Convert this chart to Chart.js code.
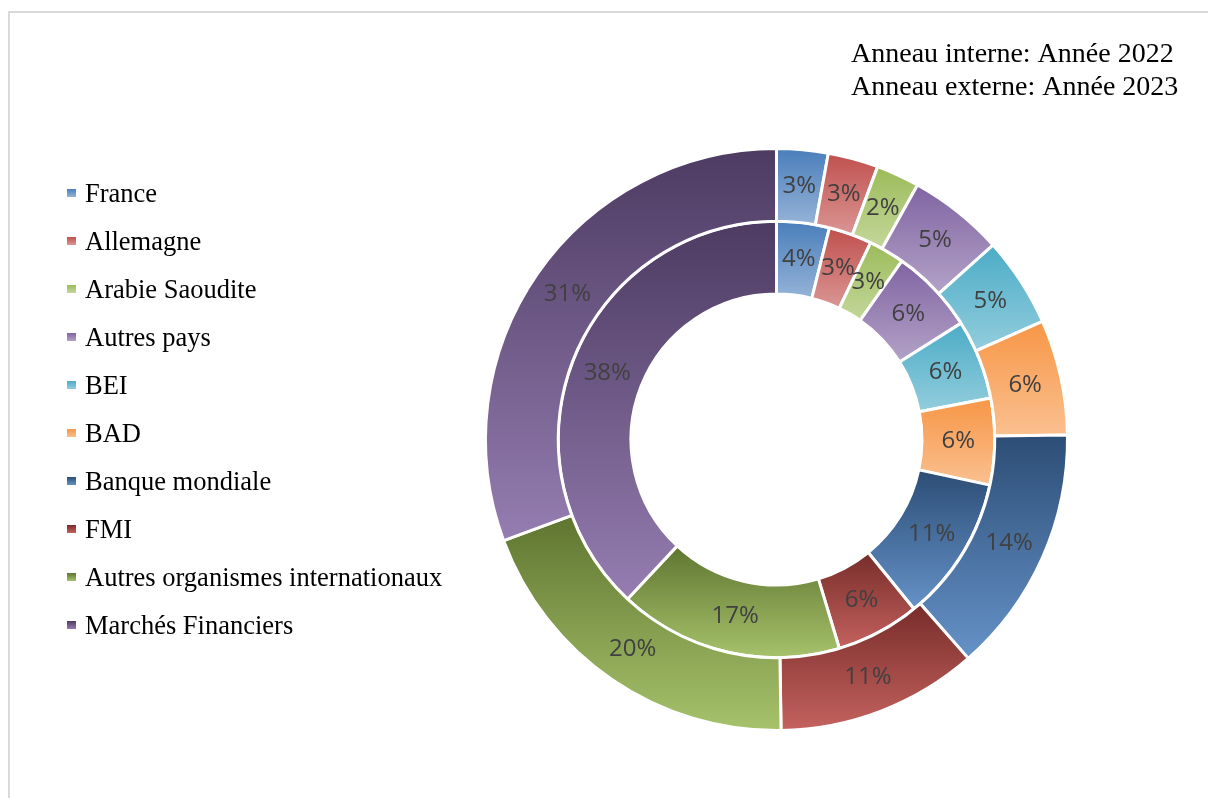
<!DOCTYPE html>
<html lang="fr">
<head>
<meta charset="UTF-8">
<title>Répartition par créancier - 2022 / 2023</title>
<script src="https://cdn.jsdelivr.net/npm/chart.js@4"></script>
<style>
    body { margin: 0; background: #fff; overflow: hidden; }
    .cadre { position: absolute; left: 8px; top: 11px; width: 1300px; height: 900px; border: 2px solid #d9d9d9; }
    .zone { position: absolute; left: 0; top: 0; width: 1208px; height: 798px; }
</style>
</head>
<body>
<div class="cadre"></div>
<div class="zone"><canvas id="graphique"></canvas></div>
<script>
    // données (parts en %)
    const categories = ['France', 'Allemagne', 'Arabie Saoudite', 'Autres pays', 'BEI', 'BAD',
        'Banque mondiale', 'FMI', 'Autres organismes internationaux', 'Marchés Financiers'];
    const parts2022 = [3.9, 3.2, 2.65, 6.3, 5.9, 6.4, 10.8, 6.2, 16.6, 38.05]; // anneau interne
    const parts2023 = [2.85, 2.8, 2.4, 5.3, 5.0, 6.4, 13.8, 11.2, 19.6, 30.65]; // anneau externe
    const titres = ['Anneau interne: Année 2022', 'Anneau externe: Année 2023'];

    // dégradé vertical de chaque secteur (haut foncé -> bas clair)
    const couleursHaut = ['#4a7ebb', '#c0504d', '#9bbb59', '#8064a2', '#4bacc6', '#f79646',
        '#2c4d75', '#772c2a', '#5f7530', '#4d3b62'];
    const couleursBas = ['#95b3d7', '#da9694', '#c4d79b', '#b3a2c7', '#93cddd', '#fac090',
        '#6592c8', '#c4625e', '#a6c26b', '#957db1'];

    const degrades = {
        id: 'degrades',
        beforeDatasetsDraw(chart) {
            const ctx = chart.ctx;
            chart.data.datasets.forEach((ds, di) => {
                chart.getDatasetMeta(di).data.forEach((arc, i) => {
                    const p = arc.getProps(['x', 'y', 'startAngle', 'endAngle', 'innerRadius', 'outerRadius'], true);
                    const angles = [p.startAngle, p.endAngle];
                    for (let k = -2; k <= 4; k++) {
                        const a = Math.PI / 2 + k * Math.PI;
                        if (a > p.startAngle && a < p.endAngle) angles.push(a);
                    }
                    let minY = Infinity, maxY = -Infinity;
                    angles.forEach(a => {
                        [p.innerRadius, p.outerRadius].forEach(r => {
                            const y = p.y + r * Math.sin(a);
                            minY = Math.min(minY, y);
                            maxY = Math.max(maxY, y);
                        });
                    });
                    const g = ctx.createLinearGradient(0, minY, 0, maxY);
                    g.addColorStop(0, couleursHaut[i]);
                    g.addColorStop(1, couleursBas[i]);
                    arc.options.backgroundColor = g;
                });
            });
        }
    };

    const etiquettes = {
        id: 'etiquettes',
        afterDatasetsDraw(chart) {
            const ctx = chart.ctx;
            ctx.save();
            ctx.font = '24px "Open Sans"';
            ctx.fillStyle = '#404040';
            ctx.textAlign = 'center';
            ctx.textBaseline = 'middle';
            chart.data.datasets.forEach((ds, di) => {
                const total = ds.data.reduce((s, v) => s + v, 0);
                chart.getDatasetMeta(di).data.forEach((arc, i) => {
                    const c = arc.getCenterPoint(true);
                    ctx.fillText(Math.round(ds.data[i] / total * 100) + '%', c.x, c.y);
                });
            });
            ctx.restore();
        }
    };

    const legendeEtTitre = {
        id: 'legendeEtTitre',
        afterDraw(chart) {
            const ctx = chart.ctx;
            ctx.save();
            ctx.fillStyle = '#000';
            ctx.textBaseline = 'alphabetic';
            ctx.font = '28px "Liberation Serif"';
            ctx.textAlign = 'left';
            titres.forEach((t, i) => ctx.fillText(t, 851, 62 + i * 33));

            ctx.font = '26.5px "Liberation Serif"';
            categories.forEach((nom, i) => {
                const y = 202 + i * 48;
                const g = ctx.createLinearGradient(0, y - 13, 0, y - 5);
                g.addColorStop(0, couleursHaut[i]);
                g.addColorStop(1, couleursBas[i]);
                ctx.fillStyle = g;
                ctx.fillRect(67, y - 13, 9, 8);
                ctx.fillStyle = '#000';
                ctx.fillText(nom, 85, y);
            });
            ctx.restore();
        }
    };

    new Chart(document.getElementById('graphique'), {
        type: 'doughnut',
        data: {
            labels: categories,
            datasets: [
                { label: '2023', data: parts2023, backgroundColor: c => couleursHaut[c.dataIndex], borderColor: '#fff', borderWidth: 3 },
                { label: '2022', data: parts2022, backgroundColor: c => couleursHaut[c.dataIndex], borderColor: '#fff', borderWidth: 3 }
            ]
        },
        options: {
            responsive: true,
            maintainAspectRatio: false,
            devicePixelRatio: 1,
            animation: false,
            events: [],
            cutout: '50%',
            layout: { padding: { left: 484, right: 139, top: 147, bottom: 66 } },
            plugins: {
                legend: { display: false },
                tooltip: { enabled: false }
            }
        },
        plugins: [degrades, etiquettes, legendeEtTitre]
    });
</script>
</body>
</html>
